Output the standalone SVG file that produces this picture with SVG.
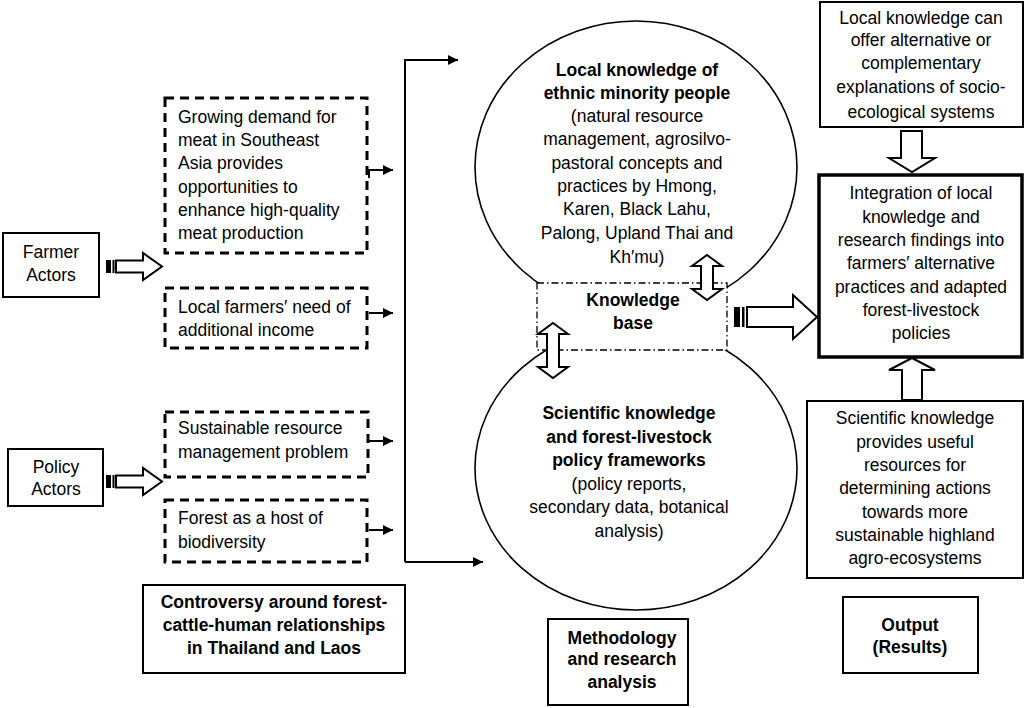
<svg xmlns="http://www.w3.org/2000/svg" width="1024" height="708" viewBox="0 0 1024 708">
<defs>
<style>
text{font-family:"Liberation Sans",Arial,sans-serif;font-size:17.5px;fill:#000}
.c{text-anchor:middle}
.b{font-weight:bold}
.box{fill:#fff;stroke:#000;stroke-width:2}
.thick{fill:#fff;stroke:#000;stroke-width:3.5}
.dash{fill:#fff;stroke:#000;stroke-width:3;stroke-dasharray:9 6}
.dd{fill:#fff;stroke:#000;stroke-width:1.3;stroke-dasharray:7 3 1.5 3}
.ell{fill:#fff;stroke:#000;stroke-width:1.6}
.blk{fill:#fff;stroke:#000;stroke-width:2;stroke-linejoin:miter}
.ln{fill:none;stroke:#000;stroke-width:2}
</style>
<marker id="ah" viewBox="0 0 10 10" refX="10" refY="5" markerWidth="5" markerHeight="5" orient="auto" markerUnits="strokeWidth"><path d="M0,0 L10,5 L0,10 z" fill="#000"/></marker>
</defs>
<rect width="1024" height="708" fill="#fff"/>

<g id="circle-local"><ellipse class="ell" cx="636" cy="167" rx="161" ry="146"/>
<text class="c b" x="637" y="76">Local knowledge of</text>
<text class="c b" x="637" y="99">ethnic minority people</text>
<text class="c" x="637" y="122">(natural resource</text>
<text class="c" x="637" y="145">management, agrosilvo-</text>
<text class="c" x="637" y="169">pastoral concepts and</text>
<text class="c" x="637" y="192">practices by Hmong,</text>
<text class="c" x="637" y="215">Karen, Black Lahu,</text>
<text class="c" x="637" y="239">Palong, Upland Thai and</text>
<text class="c" x="637" y="263">Kh′mu)</text>
</g>

<g id="circle-scientific"><ellipse class="ell" cx="636" cy="468" rx="161" ry="142"/>
<text class="c b" x="629" y="419">Scientific knowledge</text>
<text class="c b" x="629" y="443">and forest-livestock</text>
<text class="c b" x="629" y="466">policy frameworks</text>
<text class="c" x="629" y="490">(policy reports,</text>
<text class="c" x="629" y="513">secondary data, botanical</text>
<text class="c" x="629" y="537">analysis)</text>
</g>

<g id="knowledge-base"><rect class="dd" x="537" y="283" width="190" height="67"/>
<text class="c b" x="633" y="306">Knowledge</text>
<text class="c b" x="633" y="329">base</text>
</g>

<g id="farmer-actors"><rect class="box" x="3" y="233" width="96" height="64"/>
<text class="c" x="51" y="258">Farmer</text>
<text class="c" x="51" y="281">Actors</text>
</g>
<g id="policy-actors"><rect class="box" x="8" y="449" width="95" height="57"/>
<text class="c" x="56" y="473">Policy</text>
<text class="c" x="56" y="495">Actors</text>
</g>

<g id="demand"><rect class="dash" x="165" y="98" width="202" height="155"/>
<text x="178" y="123">Growing demand for</text>
<text x="178" y="146">meat in Southeast</text>
<text x="178" y="169">Asia provides</text>
<text x="178" y="193">opportunities to</text>
<text x="178" y="216">enhance high-quality</text>
<text x="178" y="239">meat production</text>
</g>
<g id="income"><rect class="dash" x="165" y="288" width="202" height="60"/>
<text x="178" y="313">Local farmers′ need of</text>
<text x="178" y="336">additional income</text>
</g>
<g id="sustainable"><rect class="dash" x="165" y="412" width="203" height="65"/>
<text x="178" y="434">Sustainable resource</text>
<text x="178" y="458">management problem</text>
</g>
<g id="forest"><rect class="dash" x="165" y="500" width="202" height="62"/>
<text x="178" y="524">Forest as a host of</text>
<text x="178" y="548">biodiversity</text>
</g>

<g id="controversy"><rect class="box" x="143" y="585" width="262" height="88"/>
<text class="c b" x="274" y="608">Controversy around forest-</text>
<text class="c b" x="274" y="631">cattle-human relationships</text>
<text class="c b" x="274" y="654">in Thailand and Laos</text>
</g>
<g id="methodology"><rect class="box" x="548" y="619" width="140" height="86"/>
<text class="c b" x="622" y="644">Methodology</text>
<text class="c b" x="622" y="665">and research</text>
<text class="c b" x="622" y="688">analysis</text>
</g>

<g id="local-alt"><rect class="box" x="820" y="2" width="203" height="125"/>
<text class="c" x="921" y="24">Local knowledge can</text>
<text class="c" x="921" y="46">offer alternative or</text>
<text class="c" x="921" y="69">complementary</text>
<text class="c" x="921" y="93">explanations of socio-</text>
<text class="c" x="921" y="118">ecological systems</text>
</g>
<g id="integration"><rect class="thick" x="819" y="175" width="203" height="182"/>
<text class="c" x="921" y="199">Integration of local</text>
<text class="c" x="921" y="223">knowledge and</text>
<text class="c" x="921" y="246">research findings into</text>
<text class="c" x="921" y="269">farmers′ alternative</text>
<text class="c" x="921" y="293">practices and adapted</text>
<text class="c" x="921" y="316">forest-livestock</text>
<text class="c" x="921" y="339">policies</text>
</g>
<g id="scientific-useful"><rect class="box" x="807" y="401" width="216" height="177"/>
<text class="c" x="915" y="424">Scientific knowledge</text>
<text class="c" x="915" y="448">provides useful</text>
<text class="c" x="915" y="471">resources for</text>
<text class="c" x="915" y="494">determining actions</text>
<text class="c" x="915" y="518">towards more</text>
<text class="c" x="915" y="541">sustainable highland</text>
<text class="c" x="915" y="564">agro-ecosystems</text>
</g>
<g id="output"><rect class="box" x="843" y="597" width="135" height="76"/>
<text class="c b" x="910" y="631">Output</text>
<text class="c b" x="910" y="653">(Results)</text>
</g>

<g id="connectors">
<path class="ln" d="M405,562 V60 H458" marker-end="url(#ah)"/>
<path class="ln" d="M405,562 H483" marker-end="url(#ah)"/>
<path class="ln" d="M369,178 V170 H393" marker-end="url(#ah)"/>
<path class="ln" d="M369,313 H393" marker-end="url(#ah)"/>
<path class="ln" d="M369,441 H393" marker-end="url(#ah)"/>
<path class="ln" d="M369,530 H393" marker-end="url(#ah)"/>
<!-- farmer striped arrow -->
<rect x="106" y="260" width="5" height="13" fill="#000"/>
<rect x="112.5" y="260" width="2" height="13" fill="#000"/>
<polygon class="blk" points="116,260.5 143,260.5 143,253 162,266.5 143,280 143,272.5 116,272.5"/>
<!-- policy striped arrow -->
<rect x="106" y="475" width="5" height="13" fill="#000"/>
<rect x="112.5" y="475" width="2" height="13" fill="#000"/>
<polygon class="blk" points="116,475.5 143,475.5 143,468 162,481.5 143,495 143,487.5 116,487.5"/>
<!-- big striped arrow to integration -->
<rect x="734" y="307" width="6" height="20" fill="#000"/>
<rect x="742" y="307" width="2.5" height="20" fill="#000"/>
<polygon class="blk" points="747,307 793,307 793,295 817,317 793,339 793,327 747,327"/>
<!-- double arrows -->
<polygon class="blk" points="707,255 722,266 713,266 713,289 722,289 707,300 692,289 701,289 701,266 692,266"/>
<polygon class="blk" points="553,323 568,334 559,334 559,367 568,367 553,378 538,367 547,367 547,334 538,334"/>
<!-- down arrow -->
<polygon class="blk" points="901,131 922,131 922,158 935,158 912,172 889,158 901,158"/>
<!-- up arrow -->
<polygon class="blk" points="902,400 922,400 922,370 935,370 912,358 889,370 902,370"/>
</g>
</svg>
